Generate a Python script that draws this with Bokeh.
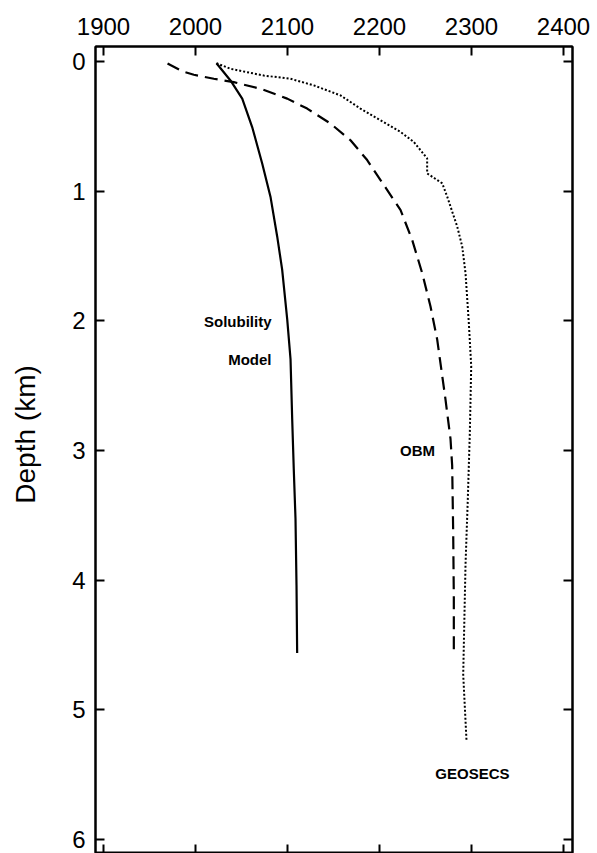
from bokeh.plotting import figure
from bokeh.models import Range1d, LinearAxis, FixedTicker
from bokeh.core.properties import value
from bokeh.embed import file_html
from bokeh.resources import INLINE

# Solubility model (solid)
sol_x = [2022.8, 2038.0, 2050.8, 2061.6, 2072.5, 2081.5, 2088.8, 2094.2, 2099.7,
         2103.3, 2105.1, 2106.8, 2108.7, 2109.8, 2110.5]
sol_d = [0.013, 0.146, 0.286, 0.505, 0.786, 1.042, 1.349, 1.605, 1.989,
         2.296, 2.757, 3.141, 3.525, 4.040, 4.562]

# OBM (dashed)
obm_x = [1969.6, 1985.5, 1998.2, 2019.9, 2041.6, 2070.7, 2099.7, 2121.4, 2146.7,
         2168.5, 2186.6, 2201.1, 2222.8, 2235.5, 2246.4, 2255.4, 2262.7, 2271.7,
         2277.2, 2279.0, 2280.1, 2280.8, 2280.8]
obm_d = [0.015, 0.075, 0.102, 0.133, 0.159, 0.210, 0.286, 0.363, 0.478,
         0.607, 0.760, 0.914, 1.144, 1.375, 1.631, 1.887, 2.143, 2.604,
         2.911, 3.116, 3.625, 4.140, 4.570]

# GEOSECS (dotted)
geo_x = [2022.8, 2038.0, 2074.2, 2103.3, 2128.6, 2157.6, 2179.3, 2201.1, 2222.8,
         2237.3, 2251.8, 2251.8, 2268.2, 2273.6, 2284.5, 2289.9, 2293.5, 2297.1,
         2299.7, 2298.2, 2296.0, 2293.5, 2291.0, 2294.6]
geo_d = [0.013, 0.056, 0.108, 0.133, 0.184, 0.261, 0.363, 0.453, 0.543,
         0.620, 0.747, 0.863, 0.939, 1.042, 1.273, 1.426, 1.631, 2.015,
         2.348, 2.859, 3.372, 3.884, 4.729, 5.240]

x_ticks = [1900, 2000, 2100, 2200, 2300, 2400]
y_ticks = [0, 1, 2, 3, 4, 5, 6]

labels = ["Solubility", "Model", "OBM", "GEOSECS"]
label_x = [2082.6, 2082.6, 2241.3, 2301.0]
label_d = [2.005, 2.296, 3.003, 5.49]
label_align = ["right", "right", "center", "center"]

FONT = "Liberation Sans"

p = figure(width=597, height=853, output_backend="svg", toolbar_location=None,
           x_range=Range1d(1891.3, 2409.8), y_range=Range1d(6.108, -0.116),
           x_axis_location="above", min_border_left=95, min_border_top=46,
           min_border_right=25, min_border_bottom=0)
p.grid.visible = False
p.outline_line_color = "black"
p.outline_line_width = 2
p.background_fill_color = "white"
p.border_fill_color = "white"

def style_axis(ax, ticks, show_labels):
    ax.ticker = FixedTicker(ticks=ticks)
    ax.major_tick_in = 9
    ax.major_tick_out = 0
    ax.minor_tick_in = 0
    ax.minor_tick_out = 0
    ax.major_tick_line_width = 2
    ax.major_tick_line_color = "black"
    ax.axis_line_color = "black"
    ax.axis_line_width = 2
    ax.major_label_text_font = FONT
    if show_labels:
        ax.major_label_text_color = "black"
        ax.major_label_text_font_size = "24px"
    else:
        ax.major_label_text_color = None
        ax.major_label_text_font_size = "1px"
        ax.major_label_standoff = 0

# top axis
top = p.xaxis[0]
style_axis(top, x_ticks, True)
top.major_label_standoff = 12

# left axis
left = p.yaxis[0]
style_axis(left, y_ticks, True)
left.major_label_standoff = 10
left.axis_label = "\u00a0\u00a0\u00a0\u00a0Depth (km)"
left.axis_label_text_font = FONT
left.axis_label_text_font_size = "28px"
left.axis_label_text_font_style = "normal"
left.axis_label_text_color = "black"
left.axis_label_standoff = 28

bottom = LinearAxis()
style_axis(bottom, x_ticks, False)
p.add_layout(bottom, "below")

right = LinearAxis()
style_axis(right, y_ticks, False)
p.add_layout(right, "right")

p.line(sol_x, sol_d, line_color="black", line_width=2.2)
p.line(obm_x, obm_d, line_color="black", line_width=2.2, line_dash="13 7")
p.line(geo_x, geo_d, line_color="black", line_width=2.0, line_dash="2 2")

for t, x, d, a in zip(labels, label_x, label_d, label_align):
    p.text(x=[x], y=[d], text=[t], text_font=value(FONT), text_font_size="15px",
           text_font_style="bold", text_align=a, text_baseline="middle",
           text_color="black")

open("out.html", "w").write(file_html(p, INLINE))
